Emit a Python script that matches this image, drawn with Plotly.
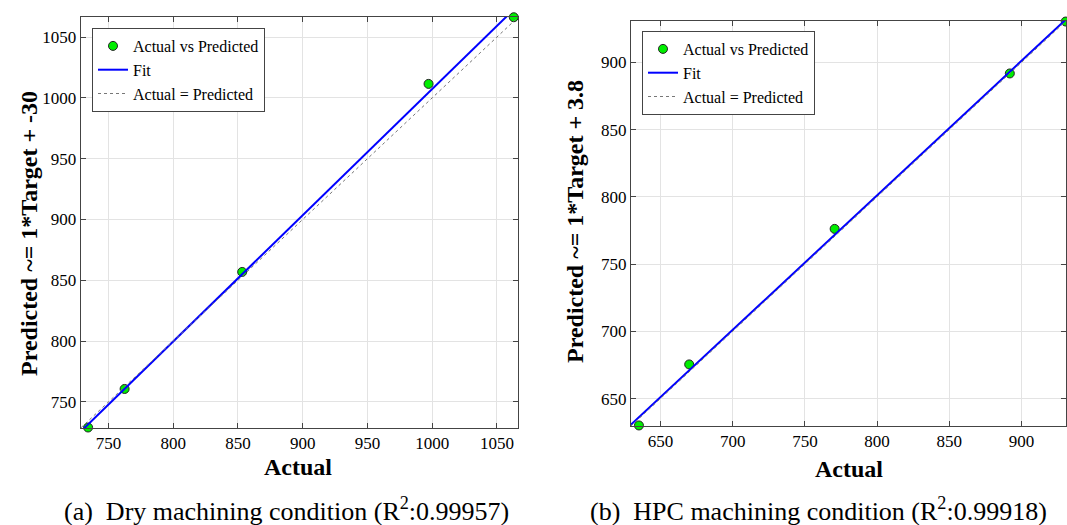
import numpy as np
import plotly.graph_objects as go

# Dry machining (a)
dry_actual = [734.3, 762.5, 853.3, 997.2, 1063.0]
dry_pred = [729.0, 760.7, 856.9, 1011.5, 1066.3]
dry_range = [728.6, 1066.5]
dry_ticks = [750, 800, 850, 900, 950, 1000, 1050]

# HPC machining (b)
hpc_actual = [635.1, 669.9, 770.6, 891.9, 930.6]
hpc_pred = [630.0, 675.4, 776.2, 891.8, 930.4]
hpc_range = [629.6, 930.8]
hpc_ticks = [650, 700, 750, 800, 850, 900]

captions = ["(a)  Dry machining condition (R<sup>2</sup>:0.99957)",
            "(b)  HPC machining condition (R<sup>2</sup>:0.99918)"]
ylabels = ["Predicted ~= 1*Target + -30", "Predicted ~= 1*Target + 3.8"]

W, H = 1067, 525
FONT = "Liberation Serif"

fig = go.Figure()

panels = [
    (dry_actual, dry_pred, dry_range, dry_ticks, "x", "y", "legend",
     [80.7, 518.3], [17, 428]),
    (hpc_actual, hpc_pred, hpc_range, hpc_ticks, "x2", "y2", "legend2",
     [631, 1066], [21, 426]),
]

for i, (xa, ya, rng, ticks, xax, yax, leg, xpx, ypx) in enumerate(panels):
    coef = np.polyfit(xa, ya, 1)
    fx = np.array(rng)
    fy = np.polyval(coef, fx)
    fig.add_trace(go.Scatter(x=xa, y=ya, mode="markers", name="Actual vs Predicted",
                             marker=dict(color="#00ee00", size=9,
                                         line=dict(color="#222222", width=1)),
                             xaxis=xax, yaxis=yax, legend=leg, cliponaxis=False))
    fig.add_trace(go.Scatter(x=fx, y=fy, mode="lines", name="Fit",
                             line=dict(color="#0000ff", width=2),
                             xaxis=xax, yaxis=yax, legend=leg))
    fig.add_trace(go.Scatter(x=fx, y=fx, mode="lines", name="Actual = Predicted",
                             line=dict(color="#777777", width=1, dash="dot"),
                             xaxis=xax, yaxis=yax, legend=leg))

    axcommon = dict(range=rng, tickvals=ticks, ticks="inside", ticklen=5,
                    tickcolor="#444444", showline=True, linecolor="#444444",
                    linewidth=1, mirror="allticks", showgrid=True,
                    gridcolor="#e3e3e3", gridwidth=1, zeroline=False,
                    tickfont=dict(family=FONT, size=17, color="black"))
    xname = "xaxis" if xax == "x" else "xaxis2"
    yname = "yaxis" if yax == "y" else "yaxis2"
    fig.layout[xname] = dict(domain=[xpx[0] / W, xpx[1] / W], anchor=yax, **axcommon)
    fig.layout[yname] = dict(domain=[1 - ypx[1] / H, 1 - ypx[0] / H], anchor=xax, **axcommon)

legend_style = dict(bgcolor="white", bordercolor="#444444", borderwidth=1,
                    font=dict(family=FONT, size=16, color="black"),
                    xanchor="left", yanchor="top", tracegroupgap=0,
                    itemwidth=30)
fig.update_layout(
    legend=dict(x=92 / W, y=1 - 28 / H, **legend_style),
    legend2=dict(x=642 / W, y=1 - 31 / H, **legend_style),
)

annotations = [
    dict(text="Actual", x=298 / W, y=1 - 467 / H),
    dict(text="Actual", x=849 / W, y=1 - 469 / H),
    dict(text=ylabels[0], x=29 / W, y=1 - 234 / H, textangle=-90),
    dict(text=ylabels[1], x=575 / W, y=1 - 222 / H, textangle=-90),
]
for a in annotations:
    fig.add_annotation(xref="paper", yref="paper", showarrow=False,
                       xanchor="center", yanchor="middle",
                       font=dict(family=FONT, size=24, color="black"),
                       text="<b>" + a["text"] + "</b>", x=a["x"], y=a["y"],
                       textangle=a.get("textangle", 0))

for cap, cx in zip(captions, [286, 818]):
    fig.add_annotation(xref="paper", yref="paper", showarrow=False,
                       xanchor="center", yanchor="middle",
                       font=dict(family=FONT, size=26, color="black"),
                       text=cap, x=cx / W, y=1 - 509 / H)

fig.update_layout(width=W, height=H, margin=dict(l=0, r=0, t=0, b=0),
                  paper_bgcolor="white", plot_bgcolor="white", showlegend=True)

fig.write_html("out.html")
